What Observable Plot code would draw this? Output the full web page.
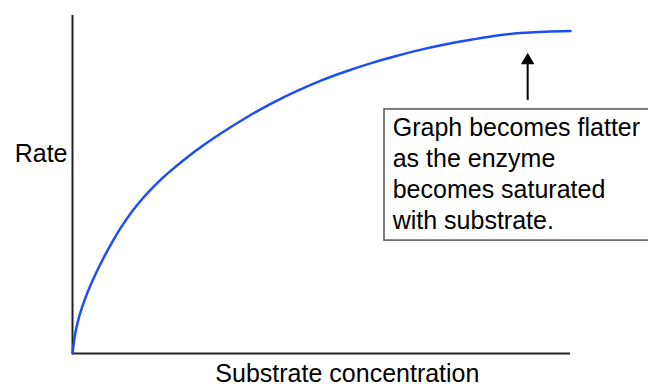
<!DOCTYPE html>
<html>
<head>
<meta charset="utf-8">
<script src="https://cdn.jsdelivr.net/npm/d3@7"></script>
<script src="https://cdn.jsdelivr.net/npm/@observablehq/plot@0.6"></script>
<style>
  html, body { margin: 0; padding: 0; background: #fff; }
  #chart svg { display: block; }
</style>
</head>
<body>
<div id="chart"></div>
<script>
// Substrate concentration (arbitrary units 0–100) and reaction rate (0–100)
const concentration = [0, 0.5, 1, 2, 3, 4.5, 6, 8, 10, 12, 14, 16, 18, 20, 23, 26, 30, 35, 40, 45, 50, 55, 60, 65, 70, 75, 80, 85, 90, 95, 100];
const rate          = [0, 5.5, 9.0, 14.0, 18.0, 23.1, 27.6, 33.0, 37.9, 42.1, 45.7, 48.9, 51.8, 54.4, 58.0, 61.3, 65.3, 69.9, 74.0, 77.6, 80.8, 83.5, 85.9, 88.0, 89.9, 91.5, 92.8, 94.0, 94.8, 95.2, 95.4];

const xLabel = "Substrate concentration";
const yLabel = "Rate";
const noteLines = ["Graph becomes flatter", "as the enzyme", "becomes saturated", "with substrate."];

const curve = concentration.map((c, i) => ({c, r: rate[i]}));
const font = "'Liberation Sans', Arial, Helvetica, sans-serif";

const chart = Plot.plot({
  width: 648,
  height: 389,
  marginLeft: 72,
  marginRight: 78,
  marginTop: 15,
  marginBottom: 36,
  style: {fontFamily: font, background: "#fff", color: "#000"},
  x: {domain: [0, 100], axis: null},
  y: {domain: [0, 100], axis: null},
  marks: [
    // axes
    Plot.ruleX([0], {y1: 0, y2: 100, stroke: "#222", strokeWidth: 2}),
    Plot.ruleY([0], {x1: 0, x2: 100, stroke: "#222", strokeWidth: 2}),
    // rate curve
    Plot.line(curve, {x: "c", y: "r", curve: "monotone-x", stroke: "#1d4ef0", strokeWidth: 2.5}),
    // annotation box
    Plot.rect([0], {x1: 62.65, x2: 125, y1: 33.4, y2: 72.2, fill: "#fff", stroke: "#555", strokeWidth: 1.5}),
    Plot.text([noteLines.join("\n")], {x: 64.3, y: 36.7, text: d => d, textAnchor: "start", lineAnchor: "bottom", lineHeight: 1.25, fontSize: 25, fill: "#000"}),
    // arrow
    Plot.ruleX([91.4], {y1: 74.9, y2: 86.5, stroke: "#000", strokeWidth: 2}),
    Plot.dot([0], {x: 91.4, y: 86.7, symbol: "triangle", r: 5, fill: "#000", stroke: "none"}),
    // axis labels
    Plot.text([yLabel], {x: 0, y: 56.8, text: d => d, dx: -5, textAnchor: "end", lineAnchor: "bottom", fontSize: 25, fill: "#000"}),
    Plot.text([xLabel], {x: 55.2, y: -8.4, text: d => d, textAnchor: "middle", lineAnchor: "bottom", fontSize: 25, fill: "#000"})
  ]
});
document.getElementById("chart").appendChild(chart);
</script>
</body>
</html>
